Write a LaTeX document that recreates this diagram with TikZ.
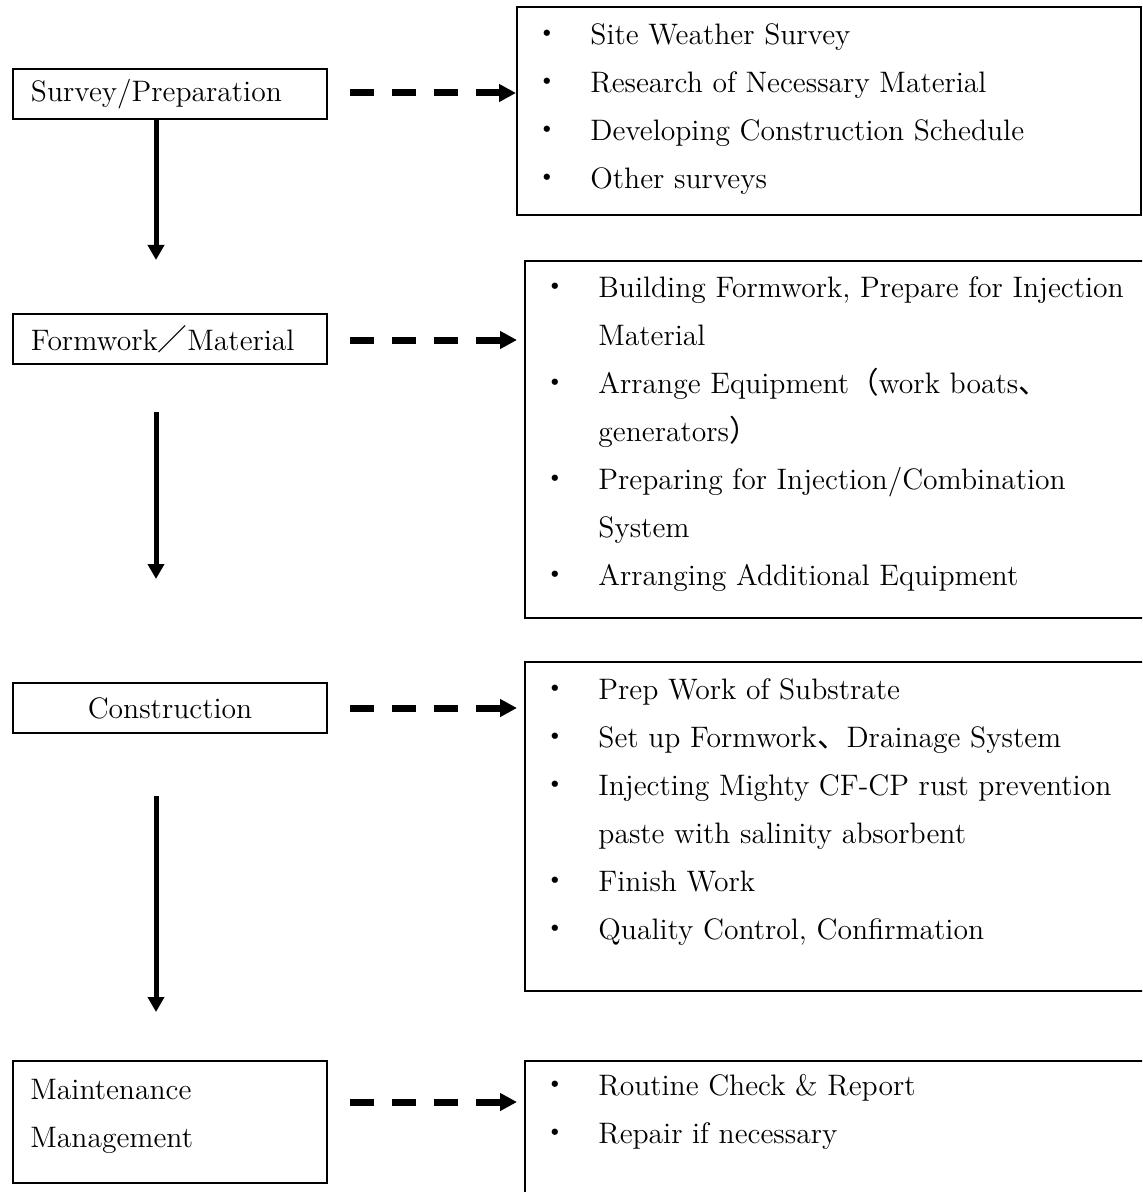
\documentclass[tikz,border=0pt]{standalone}
\usepackage{fontspec}
\newfontfamily\cjk{Noto Sans CJK JP}
\usetikzlibrary{arrows.meta}

\tikzset{
  stepbox/.style={draw=black, line width=1pt, minimum width=157pt, minimum height=25pt,
    inner xsep=9pt, inner ysep=0pt, anchor=north west},
  listbox/.style={draw=black, line width=1pt, anchor=north west},
  listtext/.style={align=left, inner sep=0pt, anchor=base west},
  flowarrow/.style={line width=2.5pt, -{Triangle[length=7.5pt,width=8pt]}},
  dasharrow/.style={line width=3.5pt, dash pattern=on 12pt off 9pt,
    -{Triangle[length=8.5pt,width=8.5pt]}},
}
\newcommand{\bul}{\makebox[29pt][l]{\cjk ・}}
\newcommand{\cont}{\hspace*{29pt}}

\begin{document}
\begin{tikzpicture}[x=0.5pt, y=-0.5pt, font=\fontsize{14.8}{24}\selectfont]
\useasboundingbox (0,0) rectangle (1142,1192);
\clip (0,0) rectangle (1142,1192);

% steps on the left
\node[stepbox, text width=139pt, align=left] (L1) at (12,68) {Survey/Preparation};
\node[stepbox, text width=139pt, align=left] (L2) at (12,313) {Formwork{\cjk ／}Material};
\node[stepbox, text width=139pt, align=center] (L3) at (12,682) {Construction};
\node[stepbox, minimum height=61pt] (L4) at (12,1060) {};
% base anchor sits on the last line
\node[listtext] (L4t) at (30,1147) {Maintenance\\Management};

% detail boxes on the right
\node[listbox, minimum width=312pt, minimum height=104pt] (R1) at (516,6) {};
\node[listbox, minimum width=400pt, minimum height=178.5pt] (R2) at (524,260) {};
\node[listbox, minimum width=400pt, minimum height=164.5pt] (R3) at (524,661) {};
\node[listbox, minimum width=400pt, minimum height=100pt] (R4) at (524,1060) {};

\node[listtext] (T1) at (532,189) {\bul Site Weather Survey\\
  \bul Research of Necessary Material\\
  \bul Developing Construction Schedule\\
  \bul Other surveys};
\node[listtext] (T2) at (540,585) {\bul Building Formwork, Prepare for Injection\\
  \cont Material\\
  \bul Arrange Equipment{\cjk （}work boats{\cjk 、}\\
  \cont generators{\cjk ）}\\
  \bul Preparing for Injection/Combination\\
  \cont System\\
  \bul Arranging Additional Equipment};
\node[listtext] (T3) at (540,939) {\bul Prep Work of Substrate\\
  \bul Set up Formwork{\cjk 、}Drainage System\\
  \bul Injecting Mighty CF-CP rust prevention\\
  \cont paste with salinity absorbent\\
  \bul Finish Work\\
  \bul Quality Control, Confirmation};
\node[listtext] (T4) at (540,1143) {\bul Routine Check \& Report\\
  \bul Repair if necessary};

% flow arrows
\coordinate (A1e) at (156,260);
\draw[flowarrow] (L1.south -| A1e) -- (A1e);
\coordinate (A2s) at (156,412);
\coordinate (A2e) at (156,579);
\draw[flowarrow] (A2s) -- (A2e);
\coordinate (A3s) at (156,796);
\coordinate (A3e) at (156,1012);
\draw[flowarrow] (A3s) -- (A3e);

% dashed arrows
\coordinate (D1) at (350,93);
\coordinate (D2) at (350,340);
\coordinate (D3) at (350,708);
\coordinate (D4) at (350,1102);
\draw[dasharrow] (D1) -- (D1 -| R1.west);
\draw[dasharrow, shorten >=3.5pt] (D2) -- (D2 -| R2.west);
\draw[dasharrow, shorten >=3.5pt] (D3) -- (D3 -| R3.west);
\draw[dasharrow, shorten >=3.5pt] (D4) -- (D4 -| R4.west);
\end{tikzpicture}
\end{document}
